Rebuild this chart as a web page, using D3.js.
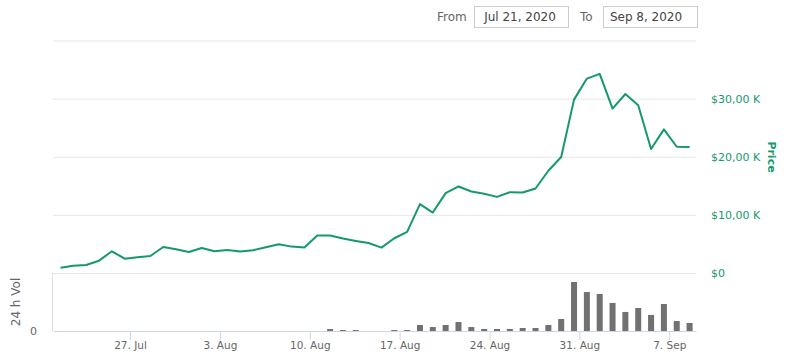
<!DOCTYPE html>
<html>
<head>
<meta charset="utf-8">
<script src="https://cdn.jsdelivr.net/npm/d3@7"></script>
<style>
  body { margin: 0; background: #fff; }
  text { font-family: "DejaVu Sans", Verdana, sans-serif; }
</style>
</head>
<body>
<div id="chart"></div>
<script>
// data, one value per day (price in USD, 24h volume in arbitrary units)
const firstDay = "2020-07-21";
const lastDay = "2020-09-08";
const prices = [
  900, 1260, 1380, 2120, 3740, 2470, 2700, 2930, 4480, 4080,
  3620, 4310, 3740, 3970, 3700, 3910, 4430, 4940, 4540, 4370,
  6440, 6440, 5920, 5520, 5170, 4370, 5980, 7070, 11850, 10400,
  13740, 14890, 14020, 13620, 13100, 13910, 13850, 14540, 17590, 19950,
  29830, 33450, 34260, 28280, 30800, 28850, 21320, 24710, 21720, 21670
];
const volumes = [
  0, 0, 0, 0, 0, 0, 0, 0, 0, 0,
  0, 0, 0, 0, 0, 0, 0, 0, 0, 0,
  0, 20, 10, 10, 0, 0, 10, 10, 62, 41,
  62, 93, 41, 21, 21, 21, 31, 31, 62, 124,
  507, 403, 383, 290, 197, 238, 166, 279, 103, 83
];
const priceTicks = [0, 10000, 20000, 30000, 40000];
const priceLabels = ["$0", "$10,00 K", "$20,00 K", "$30,00 K"];
const fromLabel = "From", fromValue = "Jul 21, 2020";
const toLabel = "To", toValue = "Sep 8, 2020";

const W = 790, H = 355;
const green = "#13996c";

const parse = d3.utcParse("%Y-%m-%d");
const days = d3.utcDays(parse(firstDay), d3.utcDay.offset(parse(lastDay), 1))
  .map(d => d3.utcHour.offset(d, 14)); // samples fall in the afternoon
const data = days.map((d, i) => ({ date: d, price: prices[i], vol: volumes[i] }));

const svg = d3.select("#chart").append("svg")
  .attr("width", W).attr("height", H);

const x = d3.scaleUtc()
  .domain([parse(firstDay), d3.utcHour.offset(parse(lastDay), 26)])
  .range([53, 696]);
const y = d3.scaleLinear().domain([0, 40000]).range([273, 40.5]);
const yv = d3.scaleLinear().domain([0, 600]).range([331, 273]);

// price gridlines
svg.append("g")
  .attr("transform", "translate(53,0)")
  .call(d3.axisLeft(y).tickValues(priceTicks).tickSize(-(696 - 53)).tickFormat(""))
  .call(g => g.select(".domain").remove())
  .call(g => g.selectAll("line").attr("stroke", "#e6e6e6"));

// price labels on the right
svg.append("g")
  .attr("transform", "translate(696,0)")
  .call(d3.axisRight(y).tickValues(priceTicks.slice(0, 4)).tickSize(0).tickPadding(15)
    .tickFormat((d, i) => priceLabels[i]))
  .call(g => g.select(".domain").remove())
  .call(g => g.selectAll("text").attr("fill", green).style("font-size", "11px")
    .style("font-family", "DejaVu Sans, sans-serif"));

svg.append("text")
  .attr("transform", "translate(772,157) rotate(90)")
  .attr("text-anchor", "middle").attr("dy", "0.35em")
  .attr("fill", green).style("font-size", "11px").style("font-weight", "bold")
  .text("Price");

// volume pane
svg.append("line")
  .attr("x1", 52.5).attr("x2", 52.5).attr("y1", 273).attr("y2", 331)
  .attr("stroke", "#e0e0e0");

svg.append("g")
  .selectAll("rect")
  .data(data.filter(d => d.vol > 0))
  .join("rect")
    .attr("x", d => x(d.date) - 3)
    .attr("width", 6)
    .attr("y", d => yv(d.vol))
    .attr("height", d => yv(0) - yv(d.vol))
    .attr("fill", "#717171");

svg.append("g")
  .attr("transform", "translate(0,331)")
  .call(d3.axisBottom(x)
    .tickValues(d3.utcMonday.range(parse(firstDay), parse(lastDay)))
    .tickFormat(d3.utcFormat("%-d. %b"))
    .tickSize(9).tickSizeOuter(0).tickPadding(2))
  .call(g => g.select(".domain").attr("stroke", "#ccd6eb"))
  .call(g => g.selectAll(".tick line").attr("stroke", "#ccd6eb"))
  .call(g => g.selectAll("text").attr("fill", "#666").style("font-size", "10.5px")
    .style("font-family", "DejaVu Sans, sans-serif"));

svg.append("text")
  .attr("x", 37).attr("y", 331).attr("dy", "0.35em")
  .attr("text-anchor", "end").attr("fill", "#666").style("font-size", "11px")
  .text("0");

svg.append("text")
  .attr("transform", "translate(16,302) rotate(-90)")
  .attr("text-anchor", "middle").attr("dy", "0.35em")
  .attr("fill", "#666").style("font-size", "12px")
  .text("24 h Vol");

// price line
svg.append("path")
  .datum(data)
  .attr("fill", "none")
  .attr("stroke", green)
  .attr("stroke-width", 2)
  .attr("stroke-linejoin", "round")
  .attr("d", d3.line().x(d => x(d.date)).y(d => y(d.price)));

// date range boxes
const range = svg.append("g").style("font-size", "12px");
range.append("text").attr("x", 437).attr("y", 17).attr("dy", "0.35em")
  .attr("fill", "#666").text(fromLabel);
range.append("rect").attr("x", 474.5).attr("y", 6.5).attr("width", 94).attr("height", 21)
  .attr("fill", "#fff").attr("stroke", "#ccc");
range.append("text").attr("x", 520).attr("y", 17).attr("dy", "0.35em")
  .attr("text-anchor", "middle").attr("fill", "#444").text(fromValue);
range.append("text").attr("x", 580).attr("y", 17).attr("dy", "0.35em")
  .attr("fill", "#666").text(toLabel);
range.append("rect").attr("x", 603.5).attr("y", 6.5).attr("width", 94).attr("height", 21)
  .attr("fill", "#fff").attr("stroke", "#ccc");
range.append("text").attr("x", 646).attr("y", 17).attr("dy", "0.35em")
  .attr("text-anchor", "middle").attr("fill", "#444").text(toValue);
</script>
</body>
</html>
